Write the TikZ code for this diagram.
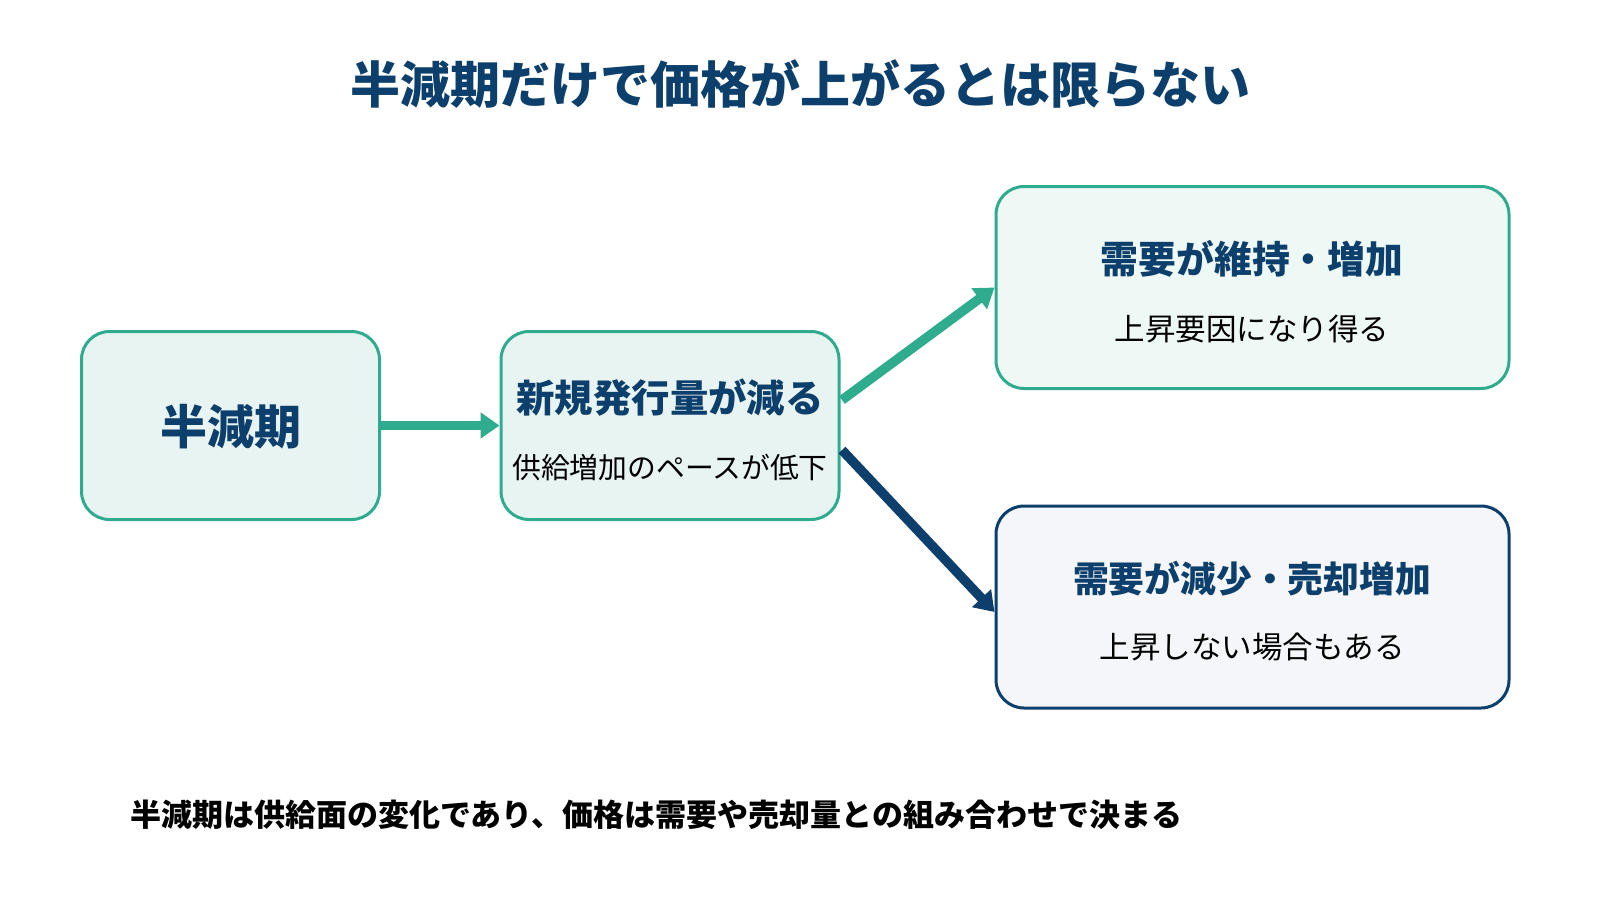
\documentclass[tikz,border=0pt]{standalone}
\usepackage{fontspec}
\setmainfont{Noto Sans CJK JP}
\usetikzlibrary{arrows.meta}
\definecolor{navy}{HTML}{0C3F6B}
\definecolor{teal}{HTML}{2FAB8D}
\definecolor{fillA}{HTML}{E8F4F2}
\definecolor{fillC}{HTML}{EEF8F5}
\definecolor{fillD}{HTML}{F4F6F9}
\tikzset{
  card/.style={draw, line width=3pt, rounded corners=28pt, inner sep=0pt},
  ttl/.style={text=navy, font=\bfseries\fontsize{#1}{#1}\selectfont, inner sep=0pt},
  sub/.style={text=black, font=\fontsize{#1}{#1}\selectfont, inner sep=0pt},
  conn/.style={line width=9.5pt, -{Triangle[length=19pt,width=25pt]}},
}
\begin{document}
\begin{tikzpicture}[x=1pt,y=-1pt]
\useasboundingbox (0,0) rectangle (1600,900);
% title
\node[ttl=50] (title) at (800,84) {半減期だけで価格が上がるとは限らない};
% boxes
\node[card, draw=teal, fill=fillA, minimum width=298pt, minimum height=188pt] (A) at (230.5,425.5) {};
\node[card, draw=teal, fill=fillA, minimum width=338pt, minimum height=188pt] (B) at (670,425.5) {};
\node[card, draw=teal, fill=fillC, minimum width=513pt, minimum height=202pt] (C) at (1252.5,287.5) {};
\node[card, draw=navy, fill=fillD, minimum width=513pt, minimum height=202pt] (D) at (1252.5,607) {};
% texts
\node[ttl=47] (At) at (230.5,427) {半減期};
\node[ttl=38.4] (Bt) at (670,398) {新規発行量が減る};
\node[sub=28.8] (Bs) at (670,467) {供給増加のペースが低下};
\node[ttl=37.8] (Ct) at (1252,259) {需要が維持・増加};
\node[sub=30.5] (Cs) at (1252,329) {上昇要因になり得る};
\node[ttl=35.8] (Dt) at (1252,579) {需要が減少・売却増加};
\node[sub=30.5] (Ds) at (1252,647) {上昇しない場合もある};
% footer
\node[ttl=31, text=black, anchor=west] (foot) at (130,815) {半減期は供給面の変化であり、価格は需要や売却量との組み合わせで決まる};
% connectors
\coordinate (b1) at (842,400);
\coordinate (b2) at (842,450);
\draw[conn, draw=teal, fill=teal] (A.east) -- (B.west);
\draw[conn, draw=teal, fill=teal] (b1) -- (C.west);
\draw[conn, draw=navy, fill=navy] (b2) -- ([yshift=-5pt]D.west);
\end{tikzpicture}
\end{document}
